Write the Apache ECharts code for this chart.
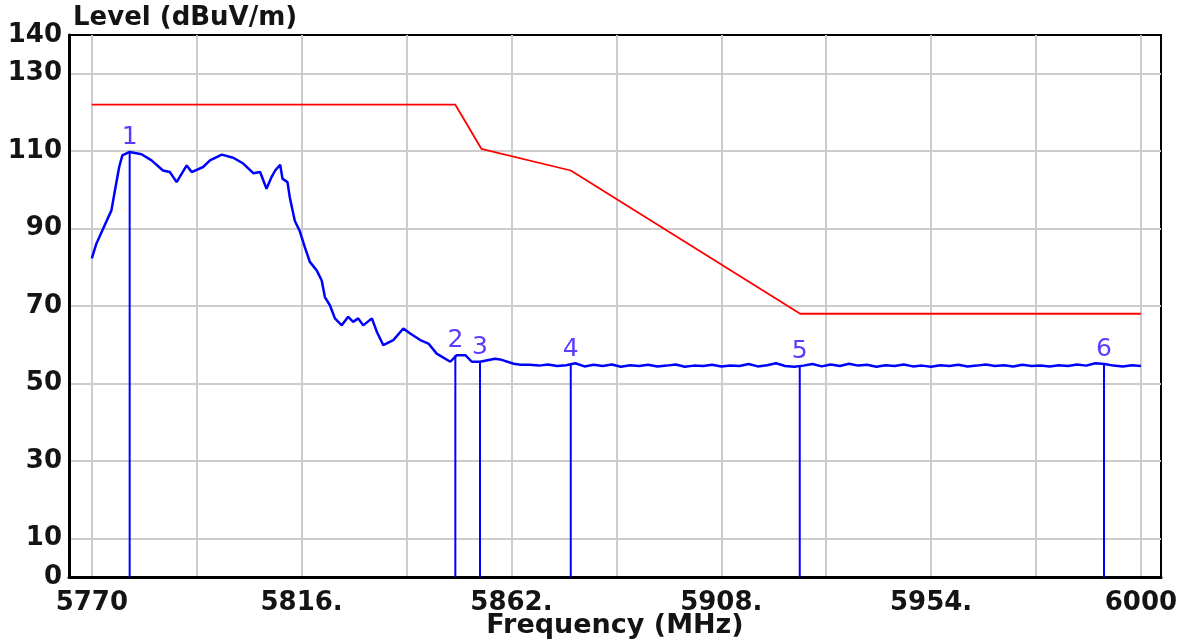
<!DOCTYPE html>
<html>
<head>
<meta charset="utf-8">
<script src="https://cdn.jsdelivr.net/npm/echarts@6.0.0/dist/echarts.min.js"></script>
<style>
html,body{margin:0;padding:0;background:#fff;}
#chart{width:1191px;height:641px;}
</style>
</head>
<body>
<div id="chart"></div>
<script>
// ---- data ----
const traceFreq = [
  5770.0, 5771.0, 5772.5, 5774.3, 5775.0, 5776.0, 5776.7, 5778.3, 5780.9, 5783.1,
  5785.6, 5787.1, 5788.6, 5790.8, 5791.9, 5794.4, 5795.9, 5798.5, 5801.0, 5803.2,
  5805.4, 5806.9, 5808.3, 5809.4, 5810.2, 5811.3, 5811.8, 5812.9, 5813.4, 5814.5,
  5815.6, 5816.7, 5817.8, 5819.3, 5820.4, 5821.1, 5822.2, 5823.3, 5824.8, 5825.1,
  5826.2, 5827.3, 5828.4, 5829.5, 5831.4, 5832.5, 5833.9, 5836.1, 5838.3, 5839.8,
  5842.0, 5843.8, 5845.6, 5848.6, 5850.0, 5851.9, 5853.3, 5855.1, 5858.4, 5859.5,
  5862.5, 5864.0,
  5866, 5868, 5870, 5872, 5874, 5876, 5878, 5880, 5882, 5884,
  5886, 5888, 5890, 5892, 5894, 5896, 5898, 5900, 5902, 5904,
  5906, 5908, 5910, 5912, 5914, 5916, 5918, 5920, 5922, 5924,
  5926, 5928, 5930, 5932, 5934, 5936, 5938, 5940, 5942, 5944,
  5946, 5948, 5950, 5952, 5954, 5956, 5958, 5960, 5962, 5964,
  5966, 5968, 5970, 5972, 5974, 5976, 5978, 5980, 5982, 5984,
  5986, 5988, 5990, 5992, 5994, 5996, 5998, 6000
];
const traceLevel = [
  82.3, 86.1, 90.0, 94.7, 99.4, 105.9, 108.9, 109.8, 109.2, 107.6,
  105.0, 104.6, 102.0, 106.3, 104.6, 105.9, 107.6, 109.1, 108.3, 106.8,
  104.3, 104.6, 100.3, 103.3, 105.0, 106.5, 102.9, 102.0, 98.1, 92.0,
  89.3, 85.2, 81.4, 79.2, 76.6, 72.3, 70.2, 66.8, 65.0, 64.6,
  67.2, 65.9, 66.8, 65.0, 66.8, 63.3, 59.9, 61.2, 64.2, 62.9,
  61.2, 60.3, 57.7, 55.6, 57.3, 57.3, 55.6, 55.6, 56.4, 56.2,
  55.1, 54.8,
  54.8, 54.6, 54.9, 54.5, 54.7, 55.2, 54.4, 54.8, 54.5, 54.9,
  54.3, 54.7, 54.5, 54.8, 54.4, 54.6, 54.9, 54.3, 54.6, 54.5,
  54.8, 54.4, 54.6, 54.5, 55.0, 54.4, 54.7, 55.2, 54.5, 54.3,
  54.6, 55.0, 54.4, 54.9, 54.5, 55.1, 54.6, 54.8, 54.3, 54.7,
  54.5, 54.9, 54.4, 54.6, 54.3, 54.7, 54.5, 54.8, 54.4, 54.6,
  54.9, 54.5, 54.7, 54.4, 54.8, 54.5, 54.6, 54.4, 54.7, 54.5,
  54.9, 54.6, 55.2, 55.0, 54.6, 54.4, 54.7, 54.5
];
const limitFreq  = [5770, 5849.7, 5855.4, 5875.0, 5925.3, 6000];
const limitLevel = [122, 122, 110.6, 105.0, 68, 68];

const markerName  = ['1', '2', '3', '4', '5', '6'];
const markerFreq  = [5778.3, 5849.7, 5855.1, 5875.0, 5925.2, 5991.9];
const markerLevel = [109.8, 57.3, 55.6, 55.1, 54.4, 55.1];

const xGridValues  = [5770, 5793, 5816, 5839, 5862, 5885, 5908, 5931, 5954, 5977, 6000];
const xLabelValues = [5770, 5816, 5862, 5908, 5954, 6000];
const xLabelTexts  = ['5770', '5816.', '5862.', '5908.', '5954.', '6000'];
const yGridValues  = [10, 30, 50, 70, 90, 110, 130];
const yLabelValues = [0, 10, 30, 50, 70, 90, 110, 130, 140];

// ---- chart ----
const FONT = 'DejaVu Sans';
const TXT = '#141414';
const chart = echarts.init(document.getElementById('chart'), null, {renderer: 'canvas'});

const markerSeries = markerName.map((name, i) => ({
  type: 'line',
  symbol: 'circle',
  symbolSize: 0,
  showSymbol: true,
  z: 4,
  lineStyle: {color: '#0000ff', width: 2},
  itemStyle: {color: '#0000ff'},
  data: [
    {value: [markerFreq[i], 0], label: {show: false}},
    {
      value: [markerFreq[i], markerLevel[i]],
      label: {
        show: true, position: 'top', distance: 2, formatter: name,
        color: '#5a3cff', fontFamily: FONT, fontSize: 25, fontWeight: 'normal'
      }
    }
  ]
}));

chart.setOption({
  animation: false,
  backgroundColor: '#ffffff',
  title: {
    text: 'Level (dBuV/m)', left: 68, top: 0,
    textStyle: {fontFamily: FONT, fontSize: 26, fontWeight: 'bold', color: TXT}
  },
  grid: {
    left: 69, right: 30, top: 35, bottom: 64,
    outerBoundsMode: 'none', containLabel: false,
    show: true, borderColor: '#000', borderWidth: 2, backgroundColor: '#fff'
  },
  xAxis: {
    type: 'value', min: 5765, max: 6004.4,
    name: 'Frequency (MHz)', nameLocation: 'middle', nameGap: 35,
    nameMoveOverlap: false,
    nameTextStyle: {fontFamily: FONT, fontSize: 27, fontWeight: 'bold', color: TXT,
                    verticalAlign: 'top', lineHeight: 27},
    axisLine: {show: true, onZero: false, lineStyle: {color: '#000', width: 3}},
    axisTick: {show: false, customValues: xGridValues},
    splitLine: {show: true, lineStyle: {color: '#cccccc', width: 2}},
    axisLabel: {
      customValues: xLabelValues, margin: 13,
      fontFamily: FONT, fontSize: 26, fontWeight: 'bold', color: TXT,
      formatter: v => xLabelTexts[xLabelValues.indexOf(v)] ?? String(v)
    }
  },
  yAxis: {
    type: 'value', min: 0, max: 140,
    axisLine: {show: true, onZero: false, lineStyle: {color: '#000', width: 3}},
    axisTick: {show: false, customValues: yGridValues},
    splitLine: {show: true, lineStyle: {color: '#cccccc', width: 2}},
    axisLabel: {
      customValues: yLabelValues, margin: 7,
      fontFamily: FONT, fontSize: 26, fontWeight: 'bold', color: TXT
    }
  },
  series: [
    {
      type: 'line', symbol: 'none', z: 3,
      lineStyle: {color: '#ff0000', width: 1.8},
      data: limitFreq.map((f, i) => [f, limitLevel[i]])
    },
    {
      type: 'line', symbol: 'none', z: 5,
      lineStyle: {color: '#0000ff', width: 2.5},
      data: traceFreq.map((f, i) => [f, traceLevel[i]])
    },
    ...markerSeries
  ]
});
</script>
</body>
</html>
